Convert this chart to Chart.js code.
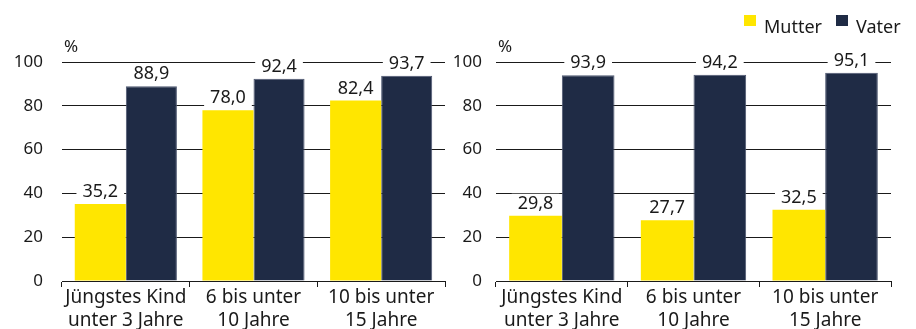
<!DOCTYPE html>
<html lang="de">
<head>
<meta charset="utf-8">
<title>Erwerbstätigkeit von Müttern und Vätern</title>
<script src="https://cdn.jsdelivr.net/npm/chart.js@4/dist/chart.umd.min.js"></script>
<style>
  html, body { margin: 0; padding: 0; background: #fff; }
  #wrap { position: relative; width: 916px; height: 329px; overflow: hidden; font-family: "Noto Sans", sans-serif; color: #1a1a1a; }
  #chart-left { position: absolute; left: 0; top: 0; }
  #chart-right { position: absolute; left: 450px; top: 0; }
  .legend-box { position: absolute; top: 15px; width: 12px; height: 11px; }
  .legend-text { position: absolute; top: 17px; font-size: 18px; line-height: 18px; white-space: nowrap; }
</style>
</head>
<body>
<div id="wrap">
  <canvas id="chart-left" width="450" height="329"></canvas>
  <canvas id="chart-right" width="466" height="329"></canvas>
  <div class="legend-box" id="legend-mutter-box" style="left:744px"></div>
  <div class="legend-text" style="left:764px">Mutter</div>
  <div class="legend-box" id="legend-vater-box" style="left:836px"></div>
  <div class="legend-text" style="left:856px">Vater</div>
</div>
<script>
// Alter des jüngsten Kindes
const categories = [
  ["Jüngstes Kind", "unter 3 Jahre"],
  ["6 bis unter", "10 Jahre"],
  ["10 bis unter", "15 Jahre"]
];

// linkes Diagramm
const mutterLinks = [35.2, 78.0, 82.4];
const vaterLinks = [88.9, 92.4, 93.7];

// rechtes Diagramm
const mutterRechts = [29.8, 27.7, 32.5];
const vaterRechts = [93.9, 94.2, 95.1];

const yMin = 0;
const yMax = 100;
const yStep = 20;

const colorMutter = "#FFE600";
const colorVater = "#1F2B45";
const textColor = "#1a1a1a";
const fontFamily = "'Noto Sans', sans-serif";

document.getElementById("legend-mutter-box").style.background = colorMutter;
document.getElementById("legend-vater-box").style.background = colorVater;

// Wert über jedem Balken, weiß hinterlegt (unterbricht die Gitterlinien)
const valueLabels = {
  id: "valueLabels",
  afterDatasetsDraw(chart) {
    const ctx = chart.ctx;
    ctx.save();
    ctx.font = "18px " + fontFamily;
    ctx.textAlign = "center";
    ctx.textBaseline = "alphabetic";
    chart.data.datasets.forEach((ds, i) => {
      chart.getDatasetMeta(i).data.forEach((bar, j) => {
        const txt = ds.data[j].toFixed(1).replace(".", ",");
        const w = ctx.measureText(txt).width + 12;
        const base = bar.y - 7;
        ctx.fillStyle = "#fff";
        ctx.fillRect(bar.x - w / 2, base - 15, w, 19);
        ctx.fillStyle = textColor;
        ctx.fillText(txt, bar.x, base);
      });
    });
    ctx.restore();
  }
};

// "%" über der y-Achse
const unitLabel = {
  id: "unitLabel",
  afterDraw(chart) {
    const ctx = chart.ctx;
    ctx.save();
    ctx.font = "17px " + fontFamily;
    ctx.fillStyle = textColor;
    ctx.textAlign = "left";
    ctx.textBaseline = "alphabetic";
    ctx.fillText("%", chart.chartArea.left + 2, chart.chartArea.top - 10);
    ctx.restore();
  }
};

function makeChart(canvasId, mutter, vater, axisWidth, tickPadding, padRight) {
  const ctx = document.getElementById(canvasId).getContext("2d");
  return new Chart(ctx, {
    type: "bar",
    data: {
      labels: categories,
      datasets: [
        {
          label: "Mutter",
          data: mutter,
          backgroundColor: colorMutter,
          borderWidth: 0,
          categoryPercentage: 0.8,
          barPercentage: 1.0
        },
        {
          label: "Vater",
          data: vater,
          backgroundColor: colorVater,
          borderColor: "#4d5770",
          borderWidth: { top: 1, left: 1, right: 1, bottom: 0 },
          borderSkipped: "start",
          categoryPercentage: 0.8,
          barPercentage: 1.0
        }
      ]
    },
    options: {
      responsive: false,
      animation: false,
      layout: { padding: { top: 62, right: padRight, bottom: 0, left: 0 } },
      plugins: {
        legend: { display: false },
        tooltip: { enabled: false }
      },
      scales: {
        x: {
          offset: true,
          grid: {
            offset: true,
            drawOnChartArea: false,
            drawTicks: true,
            tickLength: 6,
            color: textColor
          },
          border: { display: true, color: textColor, width: 1 },
          ticks: {
            color: textColor,
            padding: -1,
            maxRotation: 0,
            autoSkip: false,
            font: { family: fontFamily, size: 19, lineHeight: 1.22 }
          },
          afterFit(scale) { scale.height = 48; }
        },
        y: {
          min: yMin,
          max: yMax,
          grid: { color: textColor, lineWidth: 1, drawTicks: false },
          border: { display: false },
          ticks: {
            stepSize: yStep,
            color: textColor,
            padding: tickPadding,
            font: { family: fontFamily, size: 17 }
          },
          afterFit(scale) { scale.width = axisWidth; }
        }
      }
    },
    plugins: [valueLabels, unitLabel]
  });
}

makeChart("chart-left", mutterLinks, vaterLinks, 62, 19, 5);
makeChart("chart-right", mutterRechts, vaterRechts, 46, 14, 25);
</script>
</body>
</html>
